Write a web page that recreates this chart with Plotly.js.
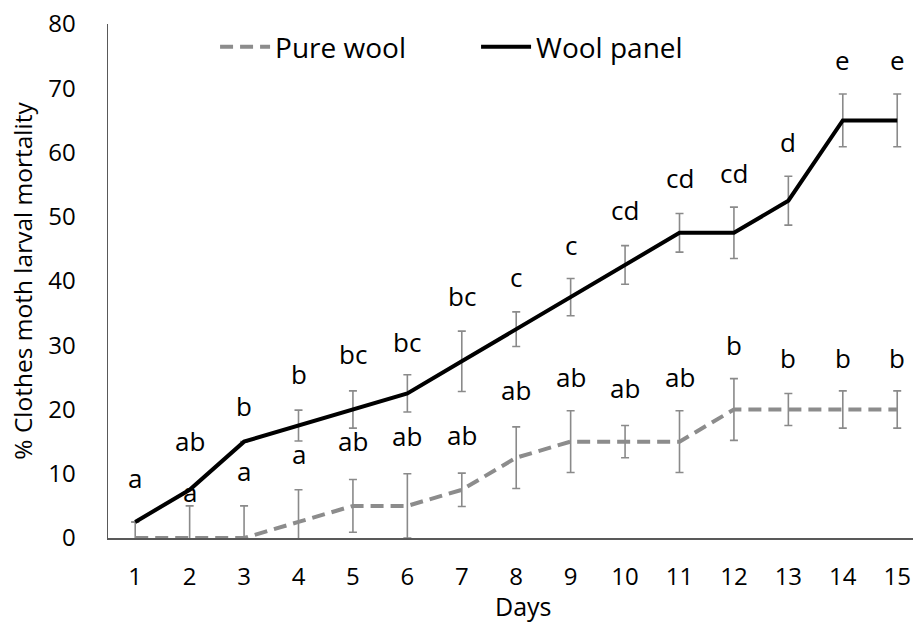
<!DOCTYPE html>
<html><head><meta charset="utf-8">
<script src="https://cdn.plot.ly/plotly-3.0.1.min.js"></script>
<style>html,body{margin:0;padding:0;background:#fff}#chart{width:913px;height:626px}</style>
</head><body><div id="chart"></div>
<script>
const days = [1,2,3,4,5,6,7,8,9,10,11,12,13,14,15];
const pureWool = [0,0,0,2.5,5,5,7.5,12.5,15,15,15,20,20,20,20];
const pureWoolErr = [2.5,5,5,5,4.1,5,2.6,4.8,4.8,2.5,4.8,4.8,2.5,2.9,2.9];
const woolPanel = [2.5,7.5,15,17.5,20,22.5,27.5,32.5,37.5,42.5,47.5,47.5,52.5,65,65];
const woolPanelErr = [null,null,null,2.4,2.9,2.9,4.7,2.7,2.9,3,3,4,3.8,4.1,4.1];
const woolPanelLetters = ['a','ab','b','b','bc','bc','bc','c','c','cd','cd','cd','d','e','e'];
const woolPanelLetterY = [9.3,15.1,20.5,25.6,28.6,30.5,37.7,40.7,45.6,51,56,56.8,61.7,74.4,74.4];
const pureWoolLetters = ['','a','a','a','ab','ab','ab','ab','ab','ab','ab','b','b','b','b'];
const pureWoolLetterY = [null,7.1,10.5,13.1,15.1,15.8,16,23,25.1,23.3,25.1,30,28,28,28];

const FONT = '"Open Sans", "Noto Sans", sans-serif';
const traces = [
  {x: days, y: pureWool, name: 'Pure wool', type: 'scatter', mode: 'lines',
   line: {color: '#8c8c8c', width: 4, dash: '13px,7px'},
   error_y: {type: 'data', array: pureWoolErr, visible: true, color: '#8a8a8a', thickness: 1.6, width: 4}},
  {x: days, y: woolPanel, name: 'Wool panel', type: 'scatter', mode: 'lines',
   line: {color: '#000000', width: 4},
   error_y: {type: 'data', array: woolPanelErr, visible: true, color: '#8a8a8a', thickness: 1.6, width: 4}}
];
const annotations = [];
days.forEach((d, i) => {
  if (woolPanelLetters[i]) annotations.push({x: d, y: woolPanelLetterY[i], xref: 'x', yref: 'y', text: woolPanelLetters[i], showarrow: false, font: {family: FONT, size: 26, color: '#000'}});
  if (pureWoolLetters[i]) annotations.push({x: d, y: pureWoolLetterY[i], xref: 'x', yref: 'y', text: pureWoolLetters[i], showarrow: false, font: {family: FONT, size: 26, color: '#000'}});
});
const W = 913, H = 626, L = 108, R = 0, T = 24, B = 88;
annotations.push({x: (523 - L) / (W - L - R), xref: 'paper', y: 1 - (606 - T) / (H - T - B), yref: 'paper',
  yanchor: 'middle', text: 'Days', showarrow: false, font: {family: FONT, size: 25, color: '#000'}});

const layout = {
  width: W, height: H,
  margin: {l: L, r: R, t: T, b: B},
  paper_bgcolor: '#fff', plot_bgcolor: '#fff',
  font: {family: FONT, size: 24, color: '#000'},
  showlegend: true,
  legend: {orientation: 'h', x: 0.133, y: 0.955, xanchor: 'left', yanchor: 'middle',
           font: {family: FONT, size: 28, color: '#000'}, bgcolor: 'rgba(0,0,0,0)',
           entrywidth: 196, entrywidthmode: 'pixels', itemwidth: 50},
  xaxis: {range: [0.5, 15.29], tickvals: days, ticktext: days.map(String), showgrid: false, zeroline: false,
          showline: true, linecolor: '#595959', linewidth: 1.5, ticks: '', ticklabelstandoff: 17,
          ticklabeloverflow: 'allow', tickfont: {family: FONT, size: 24}},
  yaxis: {range: [0, 80], dtick: 10, showgrid: false, zeroline: false,
          showline: true, linecolor: '#595959', linewidth: 1.5, ticks: '', ticklabelstandoff: 26,
          tickfont: {family: FONT, size: 24},
          title: {text: '% Clothes moth larval mortality', font: {family: FONT, size: 24.5}, standoff: 8}},
  annotations: annotations
};
Plotly.newPlot('chart', traces, layout, {displayModeBar: false, staticPlot: true});
</script></body></html>
